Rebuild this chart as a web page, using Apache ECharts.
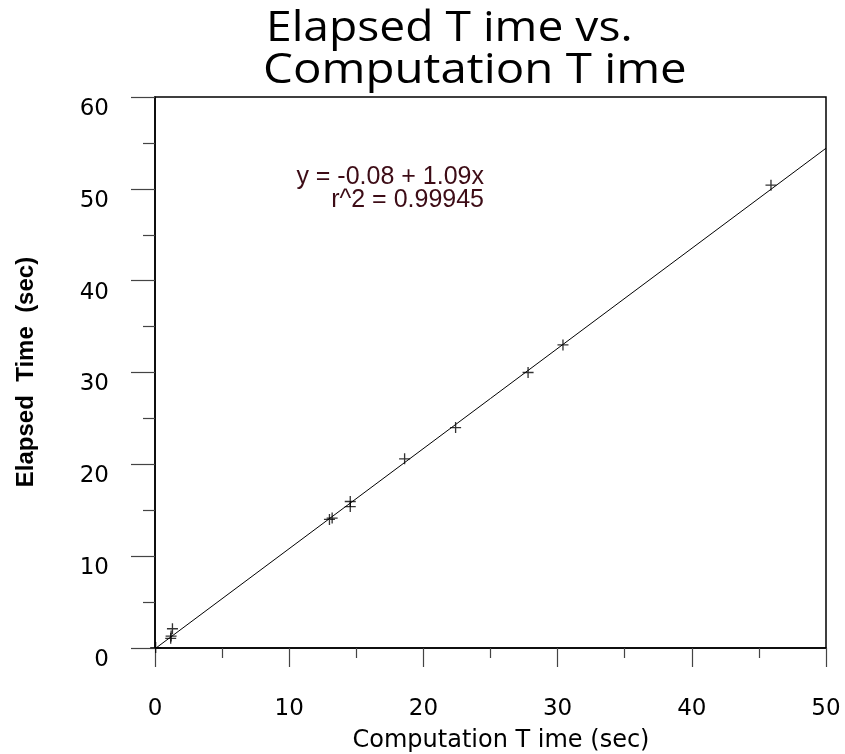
<!DOCTYPE html>
<html>
<head>
<meta charset="utf-8">
<script src="https://cdn.jsdelivr.net/npm/echarts@6/dist/echarts.min.js"></script>
<style>html,body{margin:0;padding:0;background:#fff;}#c{width:845px;height:754px;}</style>
</head>
<body>
<div id="c"></div>
<script>
// Data
var computationTime = [0.05, 1.17, 1.2, 1.3, 13.0, 13.2, 14.55, 14.55, 18.6, 22.4, 27.8, 30.4, 45.9];
var elapsedTime     = [0.05, 1.05, 1.3, 2.1, 14.0, 14.15, 15.4, 15.95, 20.6, 24.0, 30.0, 33.0, 50.4];
var fitIntercept = -0.08;
var fitSlope = 1.09;
var fitRange = [0, 50];
var titleLines = ['Elapsed T ime vs.', 'Computation T ime'];
var xAxisTitle = 'Computation T ime (sec)';
var yAxisTitle = 'Elapsed  Time  (sec)';
var equationLines = ['y = -0.08 + 1.09x', 'r^2 = 0.99945'];

var points = computationTime.map(function (x, i) { return [x, elapsedTime[i]]; });
var fitLine = fitRange.map(function (x) { return [x, fitIntercept + fitSlope * x]; });

var TFONT = '"Open Sans", Lato, sans-serif';
var FONT = '"DejaVu Sans", "Open Sans", sans-serif';
var plus = 'path://M4.4,0H5.6V4.4H10V5.6H5.6V10H4.4V5.6H0V4.4H4.4Z';

var chart = echarts.init(document.getElementById('c'), null, {renderer: 'canvas'});
chart.setOption({
  backgroundColor: '#fff',
  animation: false,
  grid: {left: 155, top: 97, right: 19, bottom: 106, show: true, borderColor: '#000', borderWidth: 1.5, backgroundColor: 'transparent'},
  xAxis: {
    type: 'value', min: 0, max: 50, interval: 10,
    axisLine: {show: true, onZero: false, lineStyle: {color: '#000', width: 1.5}},
    axisTick: {show: true, inside: false, length: 19, lineStyle: {color: '#444', width: 1.2}},
    minorTick: {show: true, splitNumber: 2, length: 10, lineStyle: {color: '#444', width: 1.2}},
    splitLine: {show: false},
    axisLabel: {margin: 50, color: '#000', fontFamily: FONT, fontSize: 23}
  },
  yAxis: {
    type: 'value', min: 0, max: 60, interval: 10,
    axisLine: {show: true, onZero: false, lineStyle: {color: '#000', width: 1.5}},
    axisTick: {show: true, inside: false, length: 24, lineStyle: {color: '#444', width: 1.2}},
    minorTick: {show: true, splitNumber: 2, length: 12, lineStyle: {color: '#444', width: 1.2}},
    splitLine: {show: false},
    axisLabel: {margin: 46, color: '#000', fontFamily: FONT, fontSize: 23, verticalAlign: 'top', lineHeight: 24}
  },
  series: [
    {
      type: 'line', data: fitLine, symbol: 'none', clip: true,
      lineStyle: {color: '#000', width: 1}, silent: true
    },
    {
      type: 'scatter', data: points, symbol: plus, symbolSize: 11,
      itemStyle: {color: '#000'}, clip: false
    }
  ],
  graphic: [
    {type: 'text', x: 266, y: 8, scaleX: 1.1, style: {text: titleLines[0], fontFamily: TFONT, fontSize: 42, fill: '#000'}},
    {type: 'text', x: 263, y: 50, scaleX: 1.13, style: {text: titleLines[1], fontFamily: TFONT, fontSize: 42, fill: '#000'}},
    {type: 'text', style: {text: xAxisTitle, x: 501, y: 741, textAlign: 'center', textVerticalAlign: 'middle', fontFamily: FONT, fontSize: 24, fill: '#000'}},
    {type: 'text', rotation: Math.PI / 2, x: 26, y: 372, style: {text: yAxisTitle, x: 0, y: 0, textAlign: 'center', textVerticalAlign: 'middle', fontFamily: '"Liberation Sans Narrow", "Liberation Sans", Arial, sans-serif', fontWeight: 'bold', fontSize: 24, fill: '#000'}},
    {type: 'text', style: {text: equationLines[0], x: 484, y: 177, textAlign: 'right', textVerticalAlign: 'middle', fontFamily: '"Liberation Sans", Arial, sans-serif', fontSize: 25, fill: '#3d0c16'}},
    {type: 'text', style: {text: equationLines[1], x: 484, y: 200, textAlign: 'right', textVerticalAlign: 'middle', fontFamily: '"Liberation Sans", Arial, sans-serif', fontSize: 25, fill: '#3d0c16'}}
  ]
});
</script>
</body>
</html>
